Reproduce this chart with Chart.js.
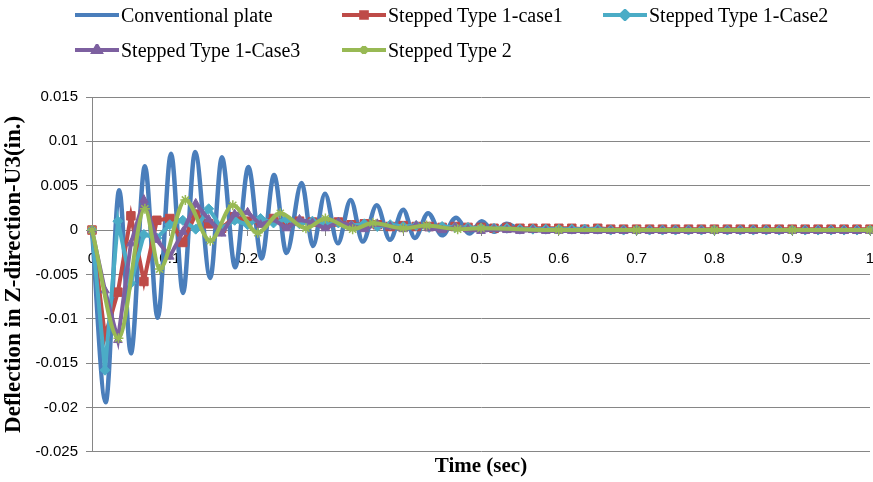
<!DOCTYPE html>
<html>
<head>
<meta charset="utf-8">
<script src="https://cdn.jsdelivr.net/npm/chart.js@4.4.1/dist/chart.umd.min.js"></script>
<style>
  body { margin: 0; background: #fff; }
  #wrap { position: relative; width: 873px; height: 482px; }
  #legend { position: absolute; left: 0; top: 0; width: 873px; height: 70px; font-family: "Liberation Serif", serif; font-size: 20px; color: #000; }
  .item { position: absolute; height: 24px; line-height: 24px; white-space: nowrap; }
  .item canvas { position: absolute; left: 0; top: 6px; }
  .item span { position: absolute; left: 46px; top: 0; }
</style>
</head>
<body>
<div id="wrap">
  <canvas id="deflection" width="873" height="482"></canvas>
  <div id="legend"></div>
</div>
<script>
// time (sec) and deflection (in.)
var convTime = [0, 0.0176, 0.035, 0.050, 0.068, 0.0844, 0.1016, 0.117, 0.1325, 0.152, 0.167, 0.184, 0.201, 0.218, 0.234, 0.250, 0.2695, 0.284, 0.2995, 0.316, 0.3325, 0.348, 0.366, 0.383, 0.400, 0.415, 0.432, 0.450, 0.468, 0.485, 0.501, 0.517, 0.533, 0.55, 0.6, 0.7, 0.8, 0.9, 1.0];
var convDefl = [0, -0.0194, 0.0045, -0.0139, 0.0072, -0.0099, 0.0086, -0.0071, 0.0088, -0.0054, 0.0082, -0.0042, 0.0071, -0.0032, 0.0062, -0.0026, 0.0053, -0.0018, 0.0041, -0.0015, 0.0034, -0.0013, 0.0028, -0.0011, 0.0023, -0.0009, 0.0019, -0.0006, 0.0014, -0.0004, 0.0010, -0.0002, 0.0007, 0.0001, 0, 0, 0, 0, 0];

var stepTime = [0, 0.0167, 0.0333, 0.05, 0.0667, 0.0833, 0.1, 0.1167, 0.1333, 0.15, 0.1667, 0.1833, 0.2, 0.2167, 0.2333, 0.25, 0.2667, 0.2833, 0.3, 0.3167, 0.3333, 0.35, 0.3667, 0.3833, 0.4, 0.4167, 0.4333, 0.45, 0.4667, 0.4833, 0.5, 0.5167, 0.5333, 0.55, 0.5667, 0.5833, 0.6, 0.6167, 0.6333, 0.65, 0.6667, 0.6833, 0.7, 0.7167, 0.7333, 0.75, 0.7667, 0.7833, 0.8, 0.8167, 0.8333, 0.85, 0.8667, 0.8833, 0.9, 0.9167, 0.9333, 0.95, 0.9667, 0.9833, 1.0];
var case1Defl = [0, -0.0120, -0.0070, 0.0016, -0.0058, 0.0011, 0.0013, -0.0014, 0.0018, 0.0007, 0.0002, 0.0015, 0.0010, 0.0008, 0.0013, 0.0007, 0.0010, 0.0009, 0.0006, 0.0009, 0.0006, 0.0007, 0.0006, 0.0004, 0.0005, 0.0004, 0.0004, 0.0003, 0.0004, 0.0003, 0.0003, 0.0002, 0.0003, 0.0002, 0.0002, 0.0002, 0.0002, 0.0002, 0.0001, 0.0002, 0.0001, 0.0001, 0.0001, 0.0001, 0.0001, 0.0001, 0.0001, 0.0001, 0.0001, 0.0001, 0.0001, 0.0001, 0.0001, 0.0001, 0.0001, 0.0001, 0.0001, 0.0001, 0.0001, 0.0001, 0.0001];
var case2Defl = [0, -0.0158, 0.0010, -0.0060, -0.0005, -0.0009, 0.0006, 0.0011, 0.0001, 0.0024, 0.0002, 0.0011, 0.0006, 0.0013, 0.0008, 0.0012, 0.0007, 0.0010, 0.0006, 0.0008, 0.0005, 0.0007, 0.0004, 0.0006, 0.0004, 0.0005, 0.0003, 0.0004, 0.0003, 0.0003, 0.0002, 0.0002, 0.0002, 0.0001, 0.0001, 0.0001, 0.0001, 0.0001, 0.0001, 0.0001, 0, 0, 0, 0, 0, 0, 0, 0, 0, 0, 0, 0, 0, 0, 0, 0, 0, 0, 0, 0, 0];
var case3Defl = [0, -0.0068, -0.0124, -0.0015, 0.0034, -0.0011, -0.0030, -0.0002, 0.0030, 0.0012, -0.0004, 0.0018, 0.0020, 0.0006, 0.0012, 0.0002, 0.0012, 0.0008, 0.0002, 0.0009, 0.0005, 0.0001, 0.0007, 0.0004, 0.0001, 0.0005, 0.0002, 0, 0.0003, 0.0001, -0.0001, 0.0001, 0, -0.0001, 0, -0.0001, -0.0001, -0.0001, -0.0001, -0.0001, -0.0001, -0.0001, -0.0001, -0.0001, -0.0001, -0.0001, -0.0001, -0.0001, -0.0001, -0.0001, -0.0001, -0.0001, -0.0001, -0.0001, -0.0001, -0.0001, -0.0001, -0.0001, -0.0001, -0.0001, -0.0001];

var type2Time = [0, 0.034, 0.068, 0.087, 0.12, 0.152, 0.181, 0.213, 0.242, 0.275, 0.30, 0.335, 0.361, 0.40, 0.43, 0.47, 0.5, 0.6, 0.7, 0.8, 0.9, 1.0];
var type2Defl = [0, -0.0122, 0.0024, -0.0044, 0.0034, -0.0012, 0.0028, -0.0003, 0.0019, 0.0002, 0.0013, 0.0001, 0.0008, 0.0002, 0.0005, 0.0001, 0.0002, 0, 0, 0, 0, 0];

var xTicks = [0, 0.1, 0.2, 0.3, 0.4, 0.5, 0.6, 0.7, 0.8, 0.9, 1];
var xTickLabels = ["0", "0.1", "0.2", "0.3", "0.4", "0.5", "0.6", "0.7", "0.8", "0.9", "1"];
var yTicks = [-0.025, -0.02, -0.015, -0.01, -0.005, 0, 0.005, 0.01, 0.015];
var yTickLabels = ["-0.025", "-0.02", "-0.015", "-0.01", "-0.005", "0", "0.005", "0.01", "0.015"];

function toPoints(times, values) {
    return times.map(function (t, i) { return { x: t, y: values[i] }; });
}

var series = [
    { label: "Conventional plate", color: "#4A7EBB", time: convTime, values: convDefl, marker: false, smooth: true, width: 4.5, order: 5 },
    { label: "Stepped Type 1-case1", color: "#BE4B48", time: stepTime, values: case1Defl, marker: "rect", radius: 6, width: 4, order: 4 },
    { label: "Stepped Type 1-Case2", color: "#4BACC6", time: stepTime, values: case2Defl, marker: "rectRot", radius: 5, width: 4, order: 3 },
    { label: "Stepped Type 1-Case3", color: "#7D60A0", time: stepTime, values: case3Defl, marker: "triangle", radius: 5, width: 4, order: 2 },
    { label: "Stepped Type 2", color: "#98B954", time: type2Time, values: type2Defl, marker: "star", radius: 5, smooth: true, width: 4, order: 1 }
];

var whiteBg = {
    id: 'whiteBg',
    beforeDraw: function (chart) {
        var c = chart.ctx;
        c.save();
        c.fillStyle = '#fff';
        c.fillRect(0, 0, chart.width, chart.height);
        c.restore();
    }
};

var ctx = document.getElementById("deflection");
new Chart(ctx, {
    type: 'line',
    plugins: [whiteBg],
    data: {
        datasets: series.map(function (s) {
            return {
                label: s.label,
                data: toPoints(s.time, s.values),
                borderColor: s.color,
                backgroundColor: s.color,
                borderWidth: s.width,
                pointStyle: s.marker || 'circle',
                pointRadius: s.marker ? s.radius : 0,
                pointBorderWidth: s.marker === 'star' ? 1.5 : 1,
                pointBorderColor: s.color,
                pointBackgroundColor: s.color,
                cubicInterpolationMode: s.smooth ? 'monotone' : 'default',
                tension: 0,
                fill: false,
                clip: 8,
                order: s.order
            };
        })
    },
    options: {
        responsive: false,
        animation: false,
        maintainAspectRatio: false,
        layout: { autoPadding: false, padding: { left: 0, right: 3, top: 97, bottom: 0 } },
        plugins: {
            legend: { display: false },
            tooltip: { enabled: false },
            title: {
                display: true,
                fullSize: false,
                position: 'bottom',
                text: 'Time (sec)',
                color: '#000',
                font: { family: 'Liberation Serif', size: 21, weight: 'bold' },
                padding: { top: 2, bottom: 3 }
            }
        },
        scales: {
            x: {
                type: 'linear',
                position: { y: 0 },
                min: 0,
                max: 1,
                afterBuildTicks: function (axis) {
                    axis.ticks = xTicks.map(function (v) { return { value: v }; });
                },
                afterFit: function (axis) { axis.paddingLeft = 0; axis.paddingRight = 0; },
                ticks: {
                    autoSkip: false,
                    maxRotation: 0,
                    padding: 15,
                    color: '#000',
                    font: { family: 'Liberation Sans', size: 15 },
                    callback: function (v) { return xTickLabels[xTicks.indexOf(v)]; }
                },
                grid: { drawOnChartArea: false, drawTicks: true, tickLength: 5, color: '#868686' },
                border: { color: '#868686', width: 1 }
            },
            y: {
                type: 'linear',
                min: -0.025,
                max: 0.015,
                afterBuildTicks: function (axis) {
                    axis.ticks = yTicks.map(function (v) { return { value: v }; });
                },
                afterFit: function (axis) { axis.width = 92; },
                ticks: {
                    padding: 8,
                    color: '#000',
                    font: { family: 'Liberation Sans', size: 15 },
                    callback: function (v) { return yTickLabels[yTicks.indexOf(v)]; }
                },
                grid: { color: '#868686', tickLength: 6 },
                border: { color: '#868686', width: 1 },
                title: {
                    display: true,
                    text: 'Deflection in Z-direction-U3(in.)',
                    color: '#000',
                    font: { family: 'Liberation Serif', size: 23, weight: 'bold' },
                    padding: { top: 0, bottom: 0 }
                }
            }
        }
    }
});

// legend laid out in columns like the source
var legendPos = [[75, 3], [342, 3], [603, 3], [75, 38], [342, 38]];
var legend = document.getElementById("legend");
series.forEach(function (s, i) {
    var item = document.createElement("div");
    item.className = "item";
    item.style.left = legendPos[i][0] + "px";
    item.style.top = legendPos[i][1] + "px";
    var icon = document.createElement("canvas");
    icon.width = 44; icon.height = 12;
    var g = icon.getContext("2d");
    g.strokeStyle = s.color; g.fillStyle = s.color; g.lineWidth = 4;
    g.beginPath(); g.moveTo(0, 6); g.lineTo(44, 6); g.stroke();
    if (s.marker) {
        Chart.helpers.drawPoint(g, { pointStyle: s.marker, radius: 4, borderWidth: s.marker === 'star' ? 1.5 : 1 }, 22, 6);
        if (s.marker !== 'star') g.fill();
    }
    var txt = document.createElement("span");
    txt.textContent = s.label;
    item.appendChild(icon);
    item.appendChild(txt);
    legend.appendChild(item);
});
</script>
</body>
</html>
